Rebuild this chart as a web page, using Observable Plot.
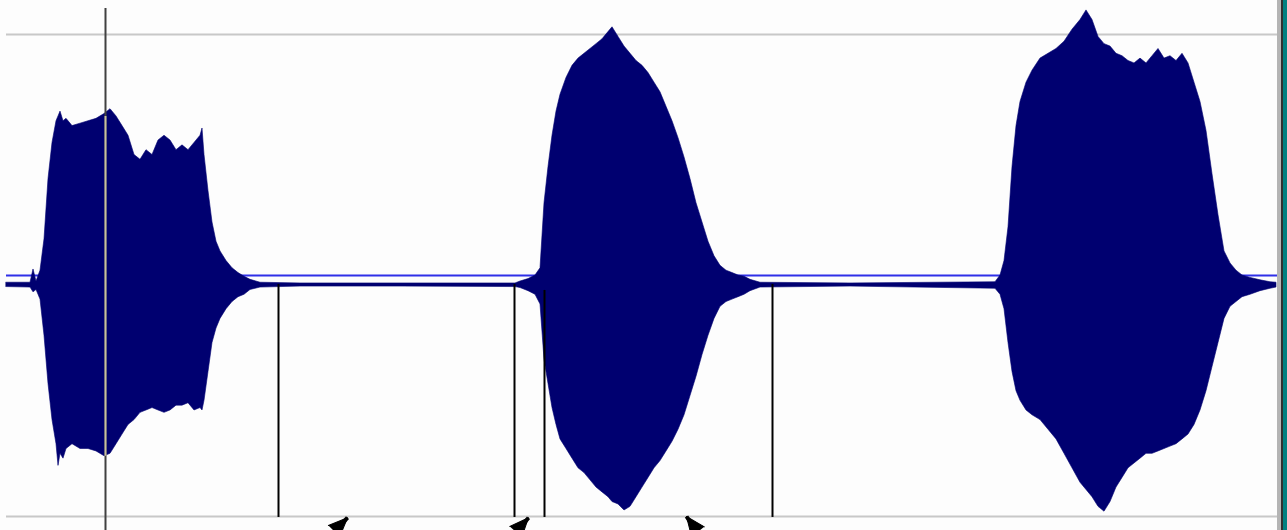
<!DOCTYPE html>
<html>
<head>
<meta charset="utf-8">
<script src="https://cdn.jsdelivr.net/npm/d3@7"></script>
<script src="https://cdn.jsdelivr.net/npm/@observablehq/plot@0.6"></script>
<style>
  html, body { margin: 0; padding: 0; background: #fdfdfd; overflow: hidden; }
  #chart svg { display: block; }
</style>
</head>
<body>
<div id="chart"></div>
<script>
// time positions (sample index, screen units) and waveform envelope (amplitude, % of full scale)
const time = [6,30,33,36,40,44,48,52,56,58,60,63,66,72,80,88,96,104,110,116,122,128,134,140,146,152,158,164,170,176,182,188,194,200,202,204,208,212,216,220,226,232,238,244,250,260,300,400,515,
  520,528,535,540,544,548,552,556,560,566,572,578,584,590,596,602,608,612,618,624,630,636,642,648,654,660,666,672,678,684,690,696,702,708,714,720,726,732,738,744,750,760,850,995,
  1000,1004,1008,1012,1016,1020,1026,1032,1040,1048,1056,1064,1072,1080,1086,1092,1098,1104,1110,1116,1122,1128,1134,1140,1146,1152,1158,1164,1170,1176,1182,1188,1194,1200,1206,1212,1218,1224,1230,1236,1242,1250,1260,1270,1276];
const upper = [-3,-3,2.5,-2.5,2,15,40,55,64,66,68,64,65,62,63,64,65,67,69,66,62,58,50,48,52,50,56,58,56,52,54,52,55,58,61,50,35,22,14,10,6,3,1,-0.5,-1.8,-3,-3.3,-3.3,-3.3,
  -2.5,-1.5,0,3,30,45,58,68,75,82,87,90,92,94,96,98,101,103,99,95,92,89,87,84,80,76,70,64,57,49,40,30,22,14,8,4,2,1,0,-0.5,-1.8,-3,-3.3,-2.8,
  0,6,20,45,62,72,80,85,90,92,94,97,102,106,110,106,99,96,95,92,91,89,88,90,88,91,94,90,91,89,92,88,80,72,60,42,25,10,5,2,0,-1,-2,-2.8,-3];
const lower = [-4.8,-5,-7,-6,-10,-25,-45,-60,-70,-79,-74,-76,-72,-70,-72,-72,-73,-75,-74,-70,-66,-62,-60,-57,-56,-55,-56,-57,-56,-54,-54,-53,-56,-55,-56,-52,-40,-28,-22,-18,-14,-11,-9,-8,-6,-5,-4.6,-4.6,-4.8,
  -5.2,-6.5,-8,-12,-35,-45,-55,-62,-68,-72,-76,-80,-82,-85,-88,-90,-92,-94,-95,-97.5,-96,-92,-88,-84,-80,-77,-73,-69,-64,-58,-50,-42,-33,-25,-18,-13,-11,-10,-9,-8,-6.5,-5,-4.6,-5.5,
  -8,-14,-28,-40,-48,-52,-56,-58,-60,-64,-68,-74,-80,-86,-89,-92,-96,-98,-94,-88,-84,-80,-78,-76,-74,-74,-73,-72,-71,-70,-68,-66,-62,-56,-48,-38,-28,-18,-13,-11,-9,-8,-6.5,-5.5,-5];

// marker positions
const cursorTime = [105];
const boundaryTime = [278, 514, 544, 772];
const boundaryTop = [-3.7, -3.7, -6.2, -3.7];
const arrowTipTime = [347, 528, 686];
const arrowTailTime = [318, 502, 708];
const arrowTipAmp = [-100.5, -100.5, -100];
const arrowTailAmp = [-114, -114, -114];
const arrowAngle = [45, 42, -37];

const wave = time.map((t, i) => ({t, hi: upper[i], lo: lower[i]}));
const bounds = boundaryTime.map((t, i) => ({t, top: boundaryTop[i]}));
const arrows = arrowTipTime.map((t, i) => ({x1: arrowTailTime[i], y1: arrowTailAmp[i], x2: t, y2: arrowTipAmp[i], a: arrowAngle[i]}));

const chart = Plot.plot({
  width: 1287,
  height: 530,
  margin: 0,
  style: {background: "#fdfdfd"},
  x: {domain: [0, 1287], range: [0, 1287], axis: null},
  y: {domain: [-100, 100], range: [516, 34], axis: null},
  marks: [
    Plot.ruleY([100, -100], {x1: 6, x2: 1277, stroke: "#c8c8c8", strokeWidth: 2}),
    Plot.ruleY([0], {x1: 6, x2: 1277, stroke: "#2f2fe8", strokeWidth: 2}),
    Plot.areaY(wave, {x: "t", y1: "lo", y2: "hi", fill: "#000070", stroke: "#000070", strokeWidth: 0.6}),
    Plot.ruleX(cursorTime, {y1: 110.8, y2: -106, stroke: "#404040", strokeWidth: 2}),
    Plot.ruleX(cursorTime, {y1: 66, y2: -75, stroke: "#c8c0a0", strokeWidth: 2}),
    Plot.ruleX(bounds, {x: "t", y1: "top", y2: -100.4, stroke: "#000", strokeWidth: 2}),
    Plot.link(arrows, {x1: "x1", y1: "y1", x2: "x2", y2: "y2", stroke: "#000", strokeWidth: 4}),
    Plot.vector(arrows, {x: "x2", y: "y2", rotate: "a", length: 19, r: 8, shape: "spike", anchor: "end", fill: "#000", stroke: "#000", strokeWidth: 1}),
    Plot.rect([0], {x1: 1277, x2: 1281, y1: 120, y2: -120, fill: "#b4b4b4"}),
    Plot.rect([0], {x1: 1281, x2: 1283, y1: 120, y2: -120, fill: "#303030"}),
    Plot.rect([0], {x1: 1283, x2: 1287, y1: 120, y2: -120, fill: "#008080"})
  ]
});
document.getElementById("chart").append(chart);
</script>
</body>
</html>
